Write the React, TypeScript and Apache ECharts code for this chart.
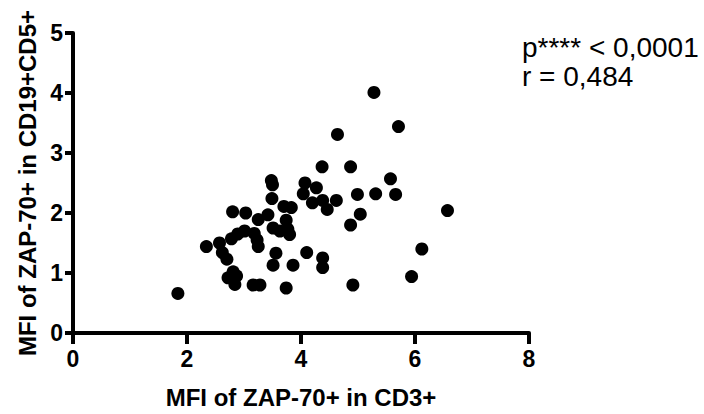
import React, { useEffect, useRef } from "react";
import * as echarts from "echarts";

const cd3Values = [
  1.84, 2.34, 2.57, 2.62, 2.70, 2.78, 2.89, 3.01, 3.18, 3.23,
  3.25, 2.80, 3.03, 3.25, 3.42, 3.48, 3.50, 3.49, 3.51, 3.63,
  3.74, 3.77, 3.80, 3.70, 3.83, 3.56, 3.51, 3.86, 3.74, 3.16,
  3.28, 2.72, 2.81, 2.87, 2.84, 4.10, 4.38, 4.38, 4.04, 4.07,
  4.27, 4.20, 4.38, 4.46, 4.62, 5.28, 5.71, 4.64, 4.37, 4.87,
  5.57, 5.31, 5.66, 4.99, 5.04, 4.87, 6.57, 6.12, 5.94, 4.91,
];
const cd19Values = [
  0.66, 1.44, 1.50, 1.34, 1.23, 1.57, 1.65, 1.70, 1.66, 1.55,
  1.44, 2.02, 2.00, 1.89, 1.97, 2.54, 2.47, 2.24, 1.75, 1.70,
  1.88, 1.73, 1.64, 2.11, 2.09, 1.33, 1.13, 1.13, 0.75, 0.80,
  0.80, 0.92, 1.02, 0.95, 0.81, 1.34, 1.25, 1.09, 2.32, 2.50,
  2.42, 2.17, 2.21, 2.06, 2.21, 4.01, 3.44, 3.31, 2.77, 2.77,
  2.57, 2.32, 2.31, 2.31, 1.98, 1.80, 2.04, 1.40, 0.94, 0.80,
];
const xTitle = "MFI of ZAP-70+ in CD3+";
const yTitle = "MFI of ZAP-70+ in CD19+CD5+";
const statLines = ["p**** < 0,0001", "r = 0,484"];

export default function App() {
  const ref = useRef<HTMLDivElement>(null);
  useEffect(() => {
    if (!ref.current) return;
    const chart = echarts.init(ref.current, null, { renderer: "svg" });
    const font = "'Liberation Sans', Arial, Helvetica, sans-serif";
    const lineStyle = { color: "#000", width: 4 };
    const labelStyle = { fontFamily: font, fontWeight: "bold" as const, fontSize: 23, color: "#000" };
    chart.setOption({
      animation: false,
      backgroundColor: "#fff",
      grid: { left: 73, right: 175, top: 33, bottom: 78, containLabel: false },
      xAxis: {
        type: "value",
        min: 0,
        max: 8,
        interval: 2,
        name: xTitle,
        nameLocation: "middle",
        nameGap: 52,
        nameTextStyle: { ...labelStyle, fontSize: 24 },
        axisLine: { show: true, lineStyle },
        axisTick: { show: true, length: 11, lineStyle },
        splitLine: { show: false },
        axisLabel: { ...labelStyle, margin: 14 },
      },
      yAxis: {
        type: "value",
        min: 0,
        max: 5,
        interval: 1,
        name: yTitle,
        nameLocation: "middle",
        nameGap: 34,
        nameTextStyle: { ...labelStyle, fontSize: 24 },
        axisLine: { show: true, lineStyle },
        axisTick: { show: true, length: 8, lineStyle },
        splitLine: { show: false },
        axisLabel: { ...labelStyle, margin: 10 },
      },
      series: [
        {
          type: "scatter",
          symbol: "circle",
          symbolSize: 13,
          itemStyle: { color: "#000", opacity: 1 },
          data: cd3Values.map((x, i) => [x, cd19Values[i]]),
        },
      ],
      graphic: statLines.map((t, i) => ({
        type: "text",
        left: 522,
        top: 33 + i * 29,
        style: { text: t, fontFamily: font, fontSize: 28, fill: "#000" },
      })),
    });
    return () => chart.dispose();
  }, []);
  return <div ref={ref} style={{ width: 704, height: 414, position: "absolute", left: 0, top: 0 }} />;
}
